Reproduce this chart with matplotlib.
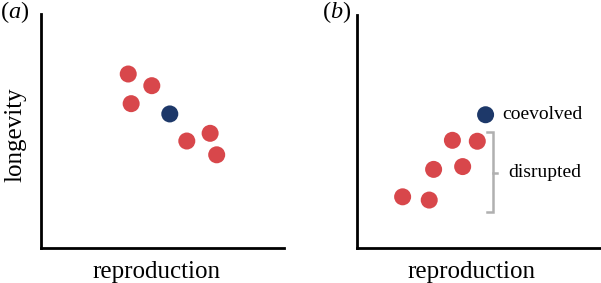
import matplotlib
matplotlib.use("Agg")
import matplotlib.pyplot as plt

plt.rcParams['font.family'] = ['Liberation Serif', 'DejaVu Serif']
plt.rcParams['mathtext.fontset'] = 'custom'
plt.rcParams['mathtext.rm'] = 'Liberation Serif'
plt.rcParams['mathtext.it'] = 'Liberation Serif:italic'

# Panel (a): trade-off between reproduction and longevity
a_red_x = [3.59, 4.56, 3.71, 6.00, 6.96, 7.23]
a_red_y = [7.43, 6.93, 6.16, 4.56, 4.89, 3.97]
a_blue_x = [5.30]
a_blue_y = [5.72]

# Panel (b): disrupted populations
b_red_x = [3.91, 4.93, 3.14, 4.33, 1.87, 2.96]
b_red_y = [4.61, 4.57, 3.36, 3.48, 2.18, 2.04]
b_blue_x = [5.27]
b_blue_y = [5.71]

xlabel = "reproduction"
ylabel = "longevity"
panel_labels = ["a", "b"]

RED = "#d8474b"
BLUE = "#1d3869"
GREY = "#b0b0b0"

W, H = 601, 283
fig = plt.figure(figsize=(W / 100, H / 100), dpi=100)

def px_axes(left, top, right, bottom):
    return fig.add_axes([left / W, 1 - bottom / H, (right - left) / W, (bottom - top) / H])

axA = px_axes(41, 14, 284, 247.5)
axB = px_axes(357, 15, 601, 247.5)

for ax in (axA, axB):
    ax.set_xlim(0, 10)
    ax.set_ylim(0, 10)
    for s in ('top', 'right'):
        ax.spines[s].set_visible(False)
    for s in ('left', 'bottom'):
        ax.spines[s].set_linewidth(2.0)
        ax.spines[s].set_color('black')
    ax.set_xticks([])
    ax.set_yticks([])
    ax.patch.set_alpha(0)

ms = 150
axA.scatter(a_red_x, a_red_y, s=ms, color=RED, edgecolors='none', clip_on=False)
axA.scatter(a_blue_x, a_blue_y, s=ms, color=BLUE, edgecolors='none', clip_on=False)
axB.scatter(b_red_x, b_red_y, s=ms, color=RED, edgecolors='none', clip_on=False)
axB.scatter(b_blue_x, b_blue_y, s=ms, color=BLUE, edgecolors='none', clip_on=False)

# bracket for disrupted
bx, btop, bbot, bmid = 5.56, 4.98, 1.52, 3.22
axB.plot([bx - 0.22, bx, bx, bx - 0.22], [btop, btop, bbot, bbot], color=GREY, lw=1.8,
         solid_joinstyle='miter', clip_on=False)
axB.plot([bx, bx + 0.18], [bmid, bmid], color=GREY, lw=1.8, clip_on=False)

axB.text(5.97, 5.71, "coevolved", fontsize=14, ha='left', va='center')
axB.text(6.19, 3.21, "disrupted", fontsize=14, ha='left', va='center')

fig.text(15 / W, 1 - 134.6 / H, ylabel, rotation=90, fontsize=18, ha='center', va='center')
fig.text(156 / W, 1 - 272 / H, xlabel, fontsize=18, ha='center', va='center')
fig.text(471.7 / W, 1 - 272 / H, xlabel, fontsize=18, ha='center', va='center')

fig.text(0.5 / W, 1 - 12.5 / H, "($\\mathit{%s}$)" % panel_labels[0], fontsize=17.5, ha='left', va='center')
fig.text(321.7 / W, 1 - 12.5 / H, "($\\mathit{%s}$)" % panel_labels[1], fontsize=17.5, ha='left', va='center')

fig.savefig("out.png", dpi=100, facecolor='white')
